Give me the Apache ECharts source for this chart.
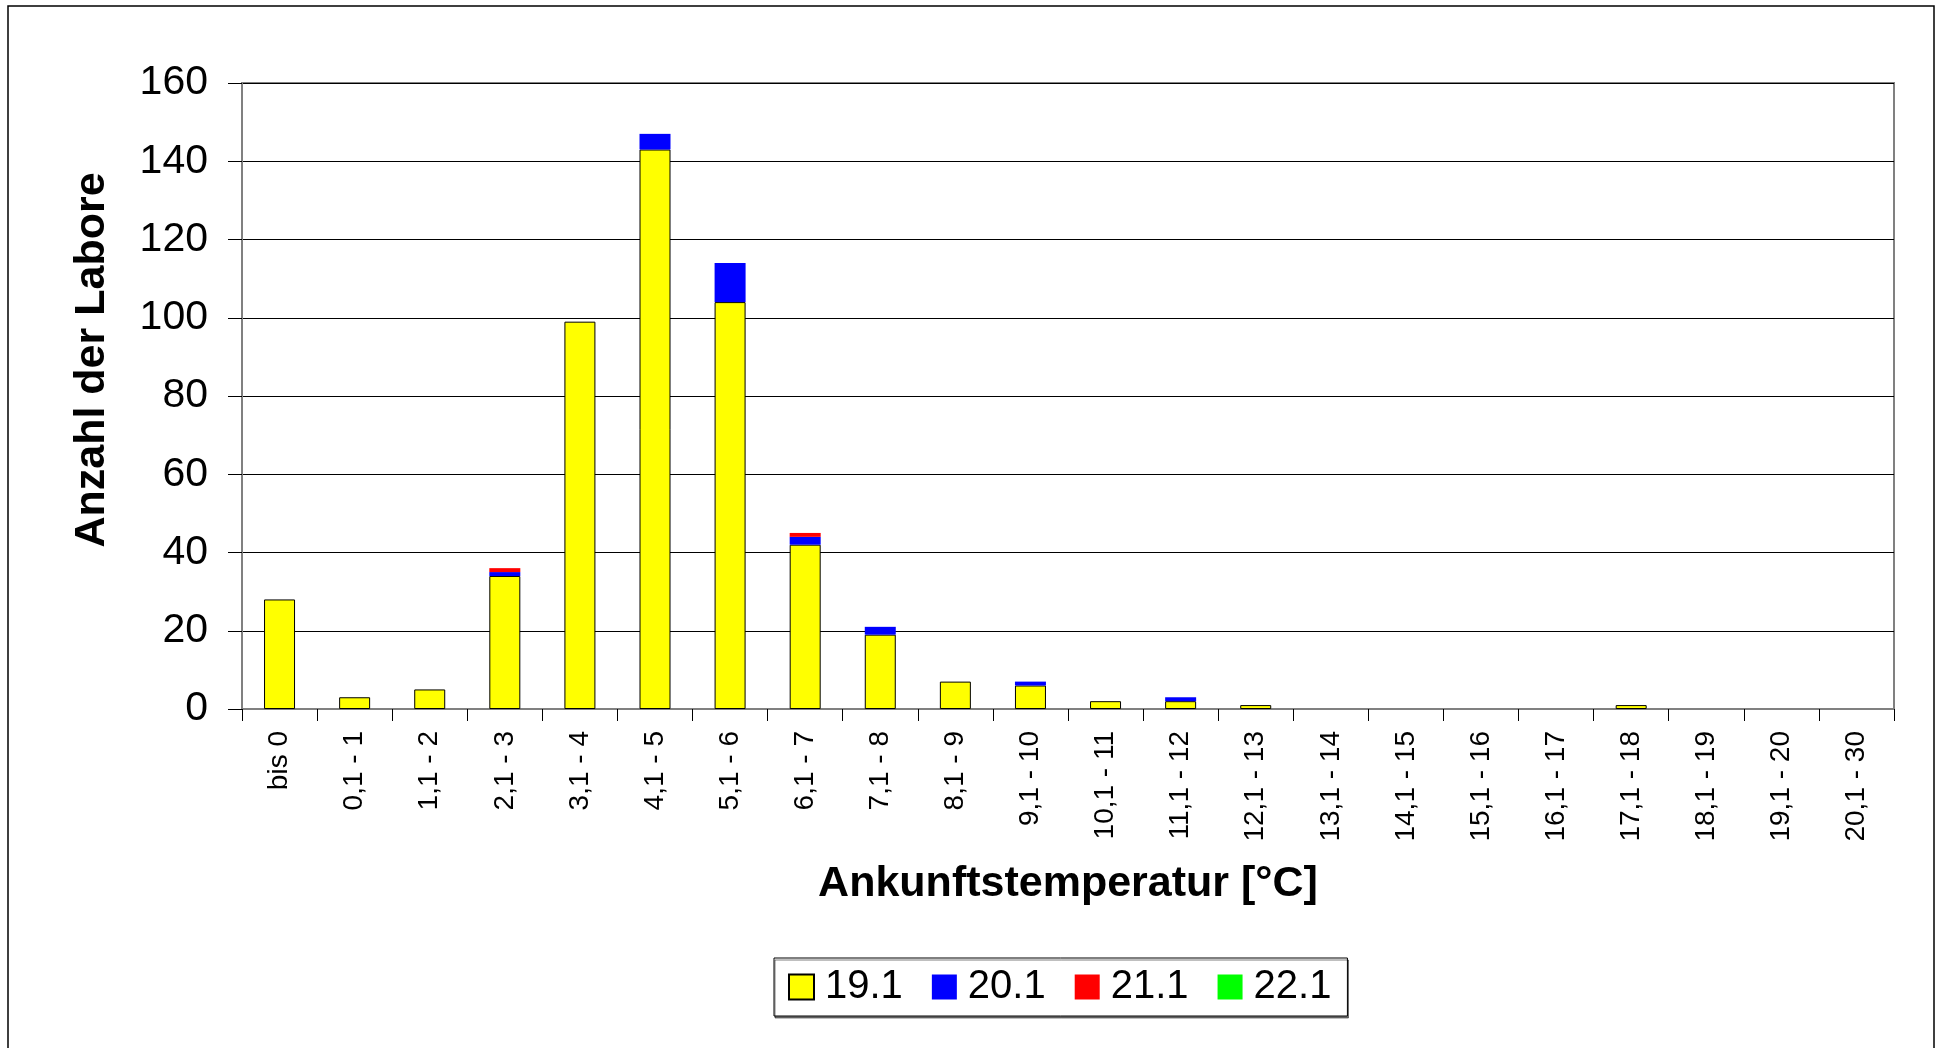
<!DOCTYPE html>
<html>
<head>
<meta charset="utf-8">
<script src="https://cdn.jsdelivr.net/npm/echarts@6/dist/echarts.min.js"></script>
<style>
  html, body { margin: 0; padding: 0; background: #fff; }
  #chart { width: 1943px; height: 1048px; }
</style>
</head>
<body>
<div id="chart"></div>
<script>
// Temperaturklassen (x-Achse)
const categories = ['bis 0', '0,1 - 1', '1,1 - 2', '2,1 - 3', '3,1 - 4', '4,1 - 5', '5,1 - 6', '6,1 - 7',
  '7,1 - 8', '8,1 - 9', '9,1 - 10', '10,1 - 11', '11,1 - 12', '12,1 - 13', '13,1 - 14', '14,1 - 15',
  '15,1 - 16', '16,1 - 17', '17,1 - 18', '18,1 - 19', '19,1 - 20', '20,1 - 30'];

// Anzahl der Labore je Ringversuch
const s191 = [28, 3, 5, 34, 99, 143, 104, 42, 19, 7, 6, 2, 2, 1, 0, 0, 0, 0, 1, 0, 0, 0];
const s201 = [0, 0, 0, 1, 0, 4, 10, 2, 2, 0, 1, 0, 1, 0, 0, 0, 0, 0, 0, 0, 0, 0];
const s211 = [0, 0, 0, 1, 0, 0, 0, 1, 0, 0, 0, 0, 0, 0, 0, 0, 0, 0, 0, 0, 0, 0];
const s221 = [0, 0, 0, 0, 0, 0, 0, 0, 0, 0, 0, 0, 0, 0, 0, 0, 0, 0, 0, 0, 0, 0];

const yTicks = { min: 0, max: 160, interval: 20 };

const font = '"Liberation Sans", Arial, sans-serif';
const chart = echarts.init(document.getElementById('chart'));

// leere Klassen ohne Rahmen zeichnen, sonst bleibt ein Strich auf der Achse
const bar = (name, data, color, border) => ({
  name: name,
  type: 'bar',
  stack: 'total',
  data: data.map(v => v === 0 ? { value: 0, itemStyle: { borderWidth: 0 } } : v),
  barWidth: 31,
  itemStyle: border
    ? { color: color, borderColor: '#000', borderWidth: 1 }
    : { color: color },
  emphasis: { disabled: true }
});

const option = {
  animation: false,
  backgroundColor: '#fff',
  textStyle: { fontFamily: font },
  graphic: [{
    type: 'rect',
    shape: { x: 8, y: 6, width: 1926, height: 1100 },
    style: { fill: 'none', stroke: '#000', lineWidth: 1.5 },
    silent: true
  }],
  grid: {
    left: 242, top: 83, width: 1652, height: 626,
    show: true, borderColor: '#808080', borderWidth: 2, backgroundColor: '#fff'
  },
  legend: {
    left: 774, top: 958,
    padding: [9, 16, 9, 14],
    itemGap: 29,
    itemWidth: 25, itemHeight: 25,
    icon: 'rect',
    borderColor: '#000', borderWidth: 1,
    shadowColor: 'rgba(0,0,0,0.5)', shadowOffsetX: 1, shadowOffsetY: 2, shadowBlur: 0,
    backgroundColor: '#fff',
    textStyle: { fontSize: 40, color: '#000', fontFamily: font, padding: [0, 0, 0, 6] },
    data: ['19.1', '20.1', '21.1', '22.1']
  },
  xAxis: {
    type: 'category',
    data: categories,
    name: 'Ankunftstemperatur [°C]',
    nameLocation: 'middle',
    nameGap: 154,
    nameTextStyle: { fontSize: 43, fontWeight: 'bold', color: '#000', fontFamily: font },
    axisLine: { lineStyle: { color: '#808080', width: 2 } },
    axisTick: { show: true, length: 12, lineStyle: { color: '#000', width: 1 } },
    axisLabel: { interval: 0, rotate: 90, fontSize: 28, color: '#000', margin: 22, fontFamily: font }
  },
  yAxis: {
    type: 'value',
    min: yTicks.min, max: yTicks.max, interval: yTicks.interval,
    name: 'Anzahl der Labore',
    nameLocation: 'middle',
    nameRotate: 90,
    nameGap: 128,
    nameTextStyle: { fontSize: 43, fontWeight: 'bold', color: '#000', fontFamily: font, padding: [0, 0, 0, 72] },
    axisLine: { show: true, lineStyle: { color: '#808080', width: 2 } },
    axisTick: { show: true, length: 14, lineStyle: { color: '#000', width: 1 } },
    axisLabel: { fontSize: 41, color: '#000', margin: 34, fontFamily: font },
    splitLine: { show: true, lineStyle: { color: '#000', width: 1 } }
  },
  series: [
    bar('19.1', s191, '#ffff00', true),
    bar('20.1', s201, '#0000ff', false),
    bar('21.1', s211, '#ff0000', false),
    bar('22.1', s221, '#00ff00', false)
  ]
};

chart.setOption(option);
</script>
</body>
</html>
